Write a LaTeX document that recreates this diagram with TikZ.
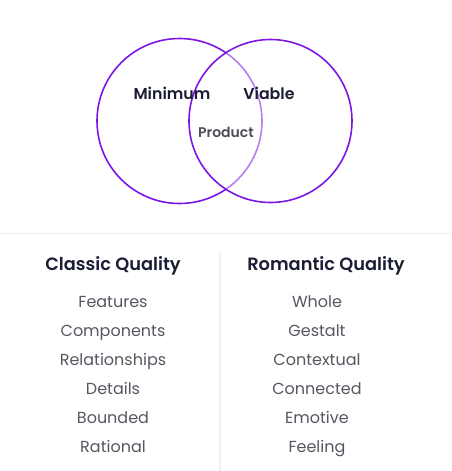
\documentclass[tikz,border=0pt]{standalone}
\usepackage{fontspec}
\setmainfont{Poppins}[BoldFont={* SemiBold}]
\usetikzlibrary{positioning}
\definecolor{venn}{RGB}{124,22,228}
\definecolor{ink}{RGB}{26,29,51}
\definecolor{soft}{RGB}{85,87,97}
\definecolor{rule}{RGB}{241,236,250}

\begin{document}
\begin{tikzpicture}[x=1pt,y=-1pt,
  heading/.style={font=\fontsize{17.8}{20}\selectfont\bfseries,text=ink,anchor=base},
  item/.style={font=\fontsize{16}{18}\selectfont,text=soft,anchor=base},
  circlabel/.style={font=\fontsize{15.8}{18}\selectfont\bfseries,text=ink}]
\useasboundingbox (0,0) rectangle (451,471);
% Venn
\draw[venn,line width=1.6pt] (179.5,121) circle (82.5);
\draw[venn,line width=1.6pt,fill=white,fill opacity=0.45,draw opacity=1] (270.5,121) circle (81.5);
\node[circlabel] (minimum) at (172,93.5) {Minimum};
\node[circlabel] (viable) at (269,93.5) {Viable};
\node[font=\fontsize{14}{16}\selectfont\bfseries,text=soft!90!black] (product) at (226,132) {Product};
% rules
\draw[rule,line width=1pt] (0,233) -- (451,233);
\draw[rule,line width=1.2pt] (220,253) -- (220,471);
% columns
\node[heading] (classic) at (113,270.5) {Classic Quality};
\node[heading] (romantic) at (326,270.5) {Romantic Quality};
\foreach \txt [count=\i] in {Features,Components,Relationships,Details,Bounded,Rational}
  \node[item] (c\i) at (113,278.7+29*\i) {\txt};
\foreach \txt [count=\i] in {Whole,Gestalt,Contextual,Connected,Emotive,Feeling}
  \node[item] (r\i) at (317,278.7+29*\i) {\txt};
\end{tikzpicture}
\end{document}
